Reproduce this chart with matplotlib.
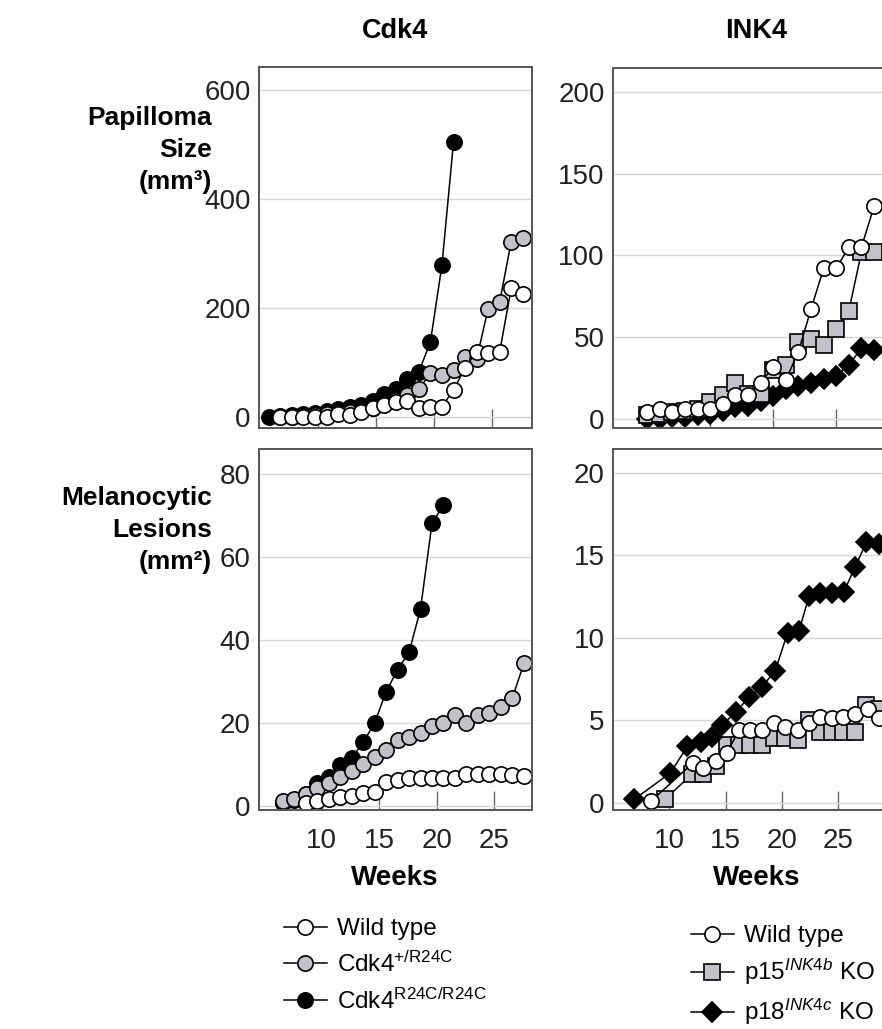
import matplotlib
matplotlib.use("Agg")
import matplotlib.pyplot as plt
from matplotlib.lines import Line2D

plt.rcParams["font.family"] = "Liberation Sans"
plt.rcParams["mathtext.fontset"] = "custom"
plt.rcParams["mathtext.rm"] = "Liberation Sans"
plt.rcParams["mathtext.it"] = "Liberation Sans:italic"
plt.rcParams["mathtext.bf"] = "Liberation Sans:bold"

# ---- data ----
# Cdk4, papilloma size (mm^3)
pap_cdk4_wk = [6.7, 7.7, 8.7, 9.7, 10.7, 11.7, 12.7, 13.7, 14.7, 15.7, 16.7,
               17.7, 18.7, 19.7, 20.7, 21.7, 22.7, 23.7, 24.7, 25.7, 26.7, 27.7]
pap_wt = [0, 0, 0, 0, 1, 6, 4, 9, 16, 22, 28, 30, 17, 18, 19, 50, 90, 120, 118, 120, 236, 226]
pap_het = [0, 1, 2, 3, 5, 7, 9, 12, 17, 24, 32, 40, 52, 80, 77, 86, 110, 106, 199, 211, 322, 329]
pap_hom_wk = [5.7, 6.7, 7.7, 8.7, 9.7, 10.7, 11.7, 12.7, 13.7, 14.7, 15.7,
              16.7, 17.7, 18.7, 19.7, 20.7, 21.7]
pap_hom = [0, 2, 4, 6, 8, 12, 15, 18, 22, 30, 43, 52, 70, 83, 138, 279, 504]

# INK4, papilloma size (mm^3)
pap_ink_wk = [10, 11, 12, 13, 14, 15, 16, 17, 18, 19, 20, 21, 22, 23, 24, 25, 26, 27, 28]
pap_ink_wt = [4, 6, 4, 6, 6, 6, 9, 14.5, 14.5, 21.7, 31.8, 23.7, 41, 67, 92, 92, 105, 105, 130]
pap_p15 = [2, 3, 4, 5, 6, 10, 14.5, 21.7, 15, 15, 30, 33, 47, 49, 45, 55, 66, 102, 102]
pap_p18 = [0, 0, 1, 1, 2, 3, 5, 7, 8, 11, 14, 18, 20, 22, 24, 26, 33, 43, 42]

# Cdk4, melanocytic lesions (mm^2)
mel_het_wk = [6.6, 7.6, 8.6, 9.6, 10.6, 11.6, 12.6, 13.6, 14.6, 15.6, 16.6,
              17.6, 18.6, 19.6, 20.6, 21.6, 22.6, 23.6, 24.6, 25.6, 26.6, 27.6]
mel_het = [1.3, 1.6, 2.9, 4.3, 5.6, 6.9, 8.5, 10.1, 11.7, 13.6, 15.9,
           16.7, 17.7, 19.3, 20.1, 21.9, 19.9, 21.9, 22.5, 23.9, 26.1, 34.4]
mel_wt_wk = [8.6, 9.6, 10.6, 11.6, 12.6, 13.6, 14.6, 15.6, 16.6, 17.6,
             18.6, 19.6, 20.6, 21.6, 22.6, 23.6, 24.6, 25.6, 26.6, 27.6]
mel_wt = [0.7, 1.3, 1.6, 2.1, 2.4, 3.2, 3.4, 5.9, 6.3, 6.7,
          6.7, 6.7, 6.7, 6.7, 7.6, 7.6, 7.6, 7.6, 7.4, 7.2]
mel_hom_wk = [6.6, 7.6, 8.6, 9.6, 10.6, 11.6, 12.6, 13.6, 14.6, 15.6, 16.6, 17.6, 18.6, 19.6, 20.6]
mel_hom = [0.8, 1.5, 3.0, 5.5, 7.1, 9.9, 11.5, 15.3, 19.9, 27.5, 32.8, 37.0, 47.4, 68.1, 72.5]

# INK4, melanocytic lesions (mm^2)
mel_p18_wk = [6.9, 10.1, 11.6, 12.8, 13.8, 14.7, 15.9, 17.1, 18.2, 19.4,
              20.5, 21.5, 22.4, 23.4, 24.4, 25.5, 26.5, 27.5, 28.6]
mel_p18 = [0.2, 1.8, 3.4, 3.7, 4.0, 4.7, 5.5, 6.4, 7.0, 8.0,
           10.3, 10.4, 12.5, 12.7, 12.7, 12.8, 14.3, 15.8, 15.7]
mel_ink_wt_wk = [8.4, 12.1, 13.0, 14.1, 15.1, 16.2, 17.2, 18.2, 19.3,
                 20.3, 21.4, 22.4, 23.4, 24.4, 25.4, 26.5, 27.6, 28.6]
mel_ink_wt = [0.1, 2.4, 2.1, 2.5, 3.0, 4.4, 4.4, 4.4, 4.8, 4.6, 4.4, 4.8, 5.2, 5.1, 5.2, 5.4, 5.7, 5.1]
mel_p15_wk = [9.6, 12.0, 13.0, 14.1, 15.1, 16.2, 17.2, 18.2, 19.3,
              20.3, 21.4, 22.4, 23.4, 24.4, 25.4, 26.5, 27.5, 28.6]
mel_p15 = [0.2, 1.7, 1.7, 2.2, 3.5, 3.5, 3.5, 3.5, 3.9, 3.9, 3.8, 5.0, 4.3, 4.3, 4.3, 4.3, 5.9, 5.7]

xticks = [10, 15, 20, 25]
GRAY = "#c2c2ca"
SPINE = "#555555"
MS_O, MS_S, MS_D = 11, 11, 10

W, H = 882, 1029
fig = plt.figure(figsize=(W / 100, H / 100), dpi=100)


def px_axes(left, top, right, bottom):
    return fig.add_axes([left / W, 1 - bottom / H, (right - left) / W, (bottom - top) / H])


def style(ax, xlim, ylim, yticks, xlabels):
    ax.set_xlim(*xlim)
    ax.set_ylim(*ylim)
    ax.set_yticks(yticks)
    ax.set_xticks(xticks)
    ax.yaxis.grid(True, color="#d6d6d6", lw=1.0)
    ax.set_axisbelow(True)
    for s in ax.spines.values():
        s.set_color(SPINE)
        s.set_linewidth(1.4)
    ax.tick_params(axis="y", length=0, pad=6, labelsize=20, labelcolor="#222222")
    ax.tick_params(axis="x", direction="in", length=14, width=1.0, color="#666666",
                   pad=13, labelsize=20, labelcolor="#222222", labelbottom=xlabels)


line_kw = dict(color="black", lw=1.1, mec="black", mew=1.2)

# top-left: Cdk4 papilloma
ax1 = px_axes(259, 67, 532, 428)
style(ax1, (4.85, 28.5), (-20, 642), [0, 200, 400, 600], False)
ax1.plot(pap_hom_wk, pap_hom, marker="o", ms=MS_O, mfc="black", **line_kw)
ax1.plot(pap_cdk4_wk, pap_het, marker="o", ms=MS_O, mfc=GRAY, **line_kw)
ax1.plot(pap_cdk4_wk, pap_wt, marker="o", ms=MS_O, mfc="white", **line_kw)

# top-right: INK4 papilloma
ax2 = px_axes(613, 68, 893, 428)
style(ax2, (7.3, 29.5), (-5.7, 214.6), [0, 50, 100, 150, 200], False)
ax2.plot(pap_ink_wk, pap_p18, marker="D", ms=MS_D, mfc="black", **line_kw)
ax2.plot(pap_ink_wk, pap_p15, marker="s", ms=MS_S, mfc=GRAY, **line_kw)
ax2.plot(pap_ink_wk, pap_ink_wt, marker="o", ms=MS_O, mfc="white", **line_kw)

# bottom-left: Cdk4 melanocytic lesions
ax3 = px_axes(259, 449, 532, 810)
style(ax3, (4.55, 28.3), (-0.96, 86.0), [0, 20, 40, 60, 80], True)
ax3.plot(mel_hom_wk, mel_hom, marker="o", ms=MS_O, mfc="black", **line_kw)
ax3.plot(mel_het_wk, mel_het, marker="o", ms=MS_O, mfc=GRAY, **line_kw)
ax3.plot(mel_wt_wk, mel_wt, marker="o", ms=MS_O, mfc="white", **line_kw)

# bottom-right: INK4 melanocytic lesions
ax4 = px_axes(613, 449, 889, 810)
style(ax4, (5.0, 29.5), (-0.455, 21.45), [0, 5, 10, 15, 20], True)
ax4.plot(mel_p15_wk, mel_p15, marker="s", ms=MS_S, mfc=GRAY, **line_kw)
ax4.plot(mel_ink_wt_wk, mel_ink_wt, marker="o", ms=MS_O, mfc="white", **line_kw)
ax4.plot(mel_p18_wk, mel_p18, marker="D", ms=MS_D, mfc="black", **line_kw)

# titles and row labels
fig.text(395 / W, 1 - 31 / H, "Cdk4", ha="center", va="center", fontsize=19.5, fontweight="bold")
fig.text(756 / W, 1 - 31 / H, "INK4", ha="center", va="center", fontsize=19.5, fontweight="bold")
fig.text(212 / W, 1 - 150 / H, "Papilloma\nSize\n(mm³)", ha="right", va="center",
         fontsize=19, fontweight="bold", linespacing=1.4)
fig.text(212 / W, 1 - 530 / H, "Melanocytic\nLesions\n(mm²)", ha="right", va="center",
         fontsize=19, fontweight="bold", linespacing=1.4)
fig.text(395 / W, 1 - 878 / H, "Weeks", ha="center", va="center", fontsize=20, fontweight="bold")
fig.text(757 / W, 1 - 878 / H, "Weeks", ha="center", va="center", fontsize=20, fontweight="bold")

# legends
def handle(marker, fc, ms):
    return Line2D([], [], marker=marker, ms=ms, mfc=fc, **line_kw)

leg_kw = dict(loc="upper left", frameon=False, fontsize=17.5, handlelength=1.75,
              handletextpad=0.45, borderpad=0, borderaxespad=0)
fig.legend(
    [handle("o", "white", MS_O), handle("o", GRAY, MS_O), handle("o", "black", MS_O)],
    ["Wild type", r"Cdk4$^{\mathrm{+/R24C}}$", r"Cdk4$^{\mathrm{R24C/R24C}}$"],
    bbox_to_anchor=(284 / W, 1 - 918 / H), labelspacing=0.48, **leg_kw)
fig.legend(
    [handle("o", "white", MS_O), handle("s", GRAY, MS_S), handle("D", "black", MS_D)],
    ["Wild type", r"p15$^{\mathit{INK4b}}$ KO", r"p18$^{\mathit{INK4c}}$ KO"],
    bbox_to_anchor=(691 / W, 1 - 925 / H), labelspacing=0.40, **leg_kw)

fig.savefig("out.png", dpi=100)
